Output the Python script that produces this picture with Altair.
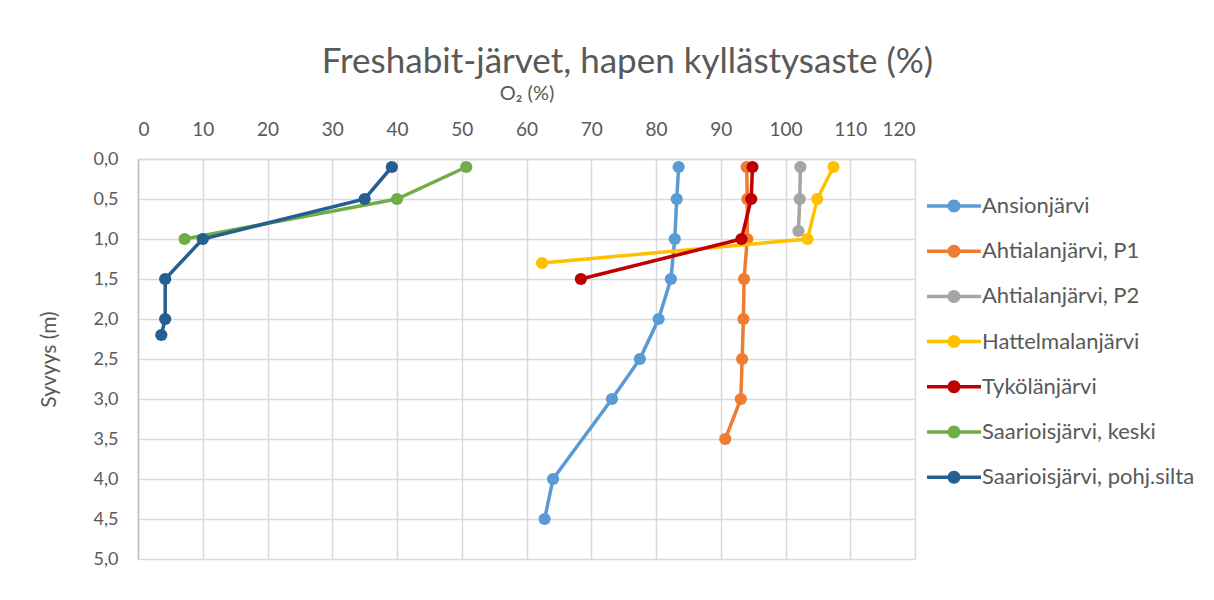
import altair as alt
import pandas as pd

# ---- data ----
series = ["Ansionjärvi", "Ahtialanjärvi, P1", "Ahtialanjärvi, P2", "Hattelmalanjärvi",
          "Tykölänjärvi", "Saarioisjärvi, keski", "Saarioisjärvi, pohj.silta"]
colors = ["#5B9BD5", "#ED7D31", "#A5A5A5", "#FFC000", "#C00000", "#70AD47", "#255E91"]

ansion_depth = [0.1, 0.5, 1.0, 1.5, 2.0, 2.5, 3.0, 4.0, 4.5]
ansion_o2 = [83.5, 83.2, 82.9, 82.3, 80.4, 77.5, 73.2, 64.1, 62.8]

ahtiala1_depth = [0.1, 0.5, 1.0, 1.5, 2.0, 2.5, 3.0, 3.5]
ahtiala1_o2 = [94.0, 94.1, 94.1, 93.6, 93.5, 93.3, 93.1, 90.7]

ahtiala2_depth = [0.1, 0.5, 0.9]
ahtiala2_o2 = [102.3, 102.2, 102.0]

hattelmala_depth = [0.1, 0.5, 1.0, 1.3]
hattelmala_o2 = [107.4, 104.9, 103.4, 62.4]

tykola_depth = [0.1, 0.5, 1.0, 1.5]
tykola_o2 = [94.9, 94.7, 93.2, 68.4]

saarkeski_depth = [0.1, 0.5, 1.0]
saarkeski_o2 = [50.7, 40.0, 7.2]

saarpohj_depth = [0.1, 0.5, 1.0, 1.5, 2.0, 2.2]
saarpohj_o2 = [39.2, 35.0, 10.0, 4.2, 4.2, 3.6]

x_ticks = list(range(0, 121, 10))
y_ticks = [0.0, 0.5, 1.0, 1.5, 2.0, 2.5, 3.0, 3.5, 4.0, 4.5, 5.0]

pairs = [(ansion_depth, ansion_o2), (ahtiala1_depth, ahtiala1_o2), (ahtiala2_depth, ahtiala2_o2),
         (hattelmala_depth, hattelmala_o2), (tykola_depth, tykola_o2),
         (saarkeski_depth, saarkeski_o2), (saarpohj_depth, saarpohj_o2)]

rows = []
for name, (d_list, v_list) in zip(series, pairs):
    for i, (d, v) in enumerate(zip(d_list, v_list)):
        rows.append({"sarja": name, "syvyys": d, "o2": v, "i": i})
df = pd.DataFrame(rows)

FONT = "Lato"
GREY = "#595959"

# legend symbol: line with a dot
SYMBOL = ("M-4.15,-0.27 H4.15 V0.27 H-4.15 Z "
          "M-1,0 A1,1 0 1,1 1,0 A1,1 0 1,1 -1,0 Z")

legend = alt.Legend(
    title=None, orient="none", legendX=805, legendY=36,
    symbolType=SYMBOL, symbolSize=169, symbolStrokeWidth=0,
    labelFont=FONT, labelFontSize=22, labelColor=GREY, labelOffset=17,
    rowPadding=23.2, gridAlign="all", padding=0, labelLimit=400,
)

x_enc = alt.X(
    "o2:Q",
    scale=alt.Scale(domain=[0, 120], nice=False, zero=False),
    axis=alt.Axis(
        orient="top", values=x_ticks, title="O₂ (%)",
        titleFont=FONT, titleFontSize=20, titleFontWeight="normal", titleColor=GREY,
        titlePadding=17,
        labelFont=FONT, labelFontSize=19, labelColor=GREY, labelPadding=20,
        ticks=False, tickSize=0, domainColor="#d9d9d9", domainWidth=1.5,
        grid=True, gridColor="#d9d9d9", gridWidth=1.5,
    ),
)
y_enc = alt.Y(
    "syvyys:Q",
    scale=alt.Scale(domain=[0, 5], reverse=True, nice=False, zero=False),
    axis=alt.Axis(
        values=y_ticks, title="Syvyys (m)",
        labelExpr="replace(format(datum.value, '.1f'), '.', ',')",
        titleFont=FONT, titleFontSize=21, titleFontWeight="normal", titleColor=GREY,
        titlePadding=34,
        labelFont=FONT, labelFontSize=18, labelColor=GREY, labelPadding=20,
        ticks=False, tickSize=0, domainColor="#bfbfbf", domainWidth=1.5,
        grid=True, gridColor="#d9d9d9", gridWidth=1.5,
    ),
)
color_enc = alt.Color("sarja:N", scale=alt.Scale(domain=series, range=colors), legend=legend)

layers = []
for name in series:
    base = alt.Chart(df).transform_filter(alt.datum.sarja == name)
    layers.append(base.mark_line(strokeWidth=3.5).encode(
        x=x_enc, y=y_enc, color=color_enc, order=alt.Order("i:Q")))
    layers.append(base.mark_circle(size=150, opacity=1).encode(
        x=x_enc, y=y_enc, color=color_enc))

chart = alt.layer(*layers).properties(
    width=777, height=400,
    title=alt.TitleParams(
        "Freshabit-järvet, hapen kyllästysaste (%)",
        font=FONT, fontSize=35, fontWeight="normal", color=GREY,
        anchor="middle", dx=101, offset=3,
    ),
    autosize=alt.AutoSizeParams(type="none"),
    padding={"left": 130, "top": 151, "right": 291, "bottom": 33},
).configure_view(stroke=None).configure(background="white")

chart.save("out.html", embed_options={"renderer": "svg", "actions": False})
